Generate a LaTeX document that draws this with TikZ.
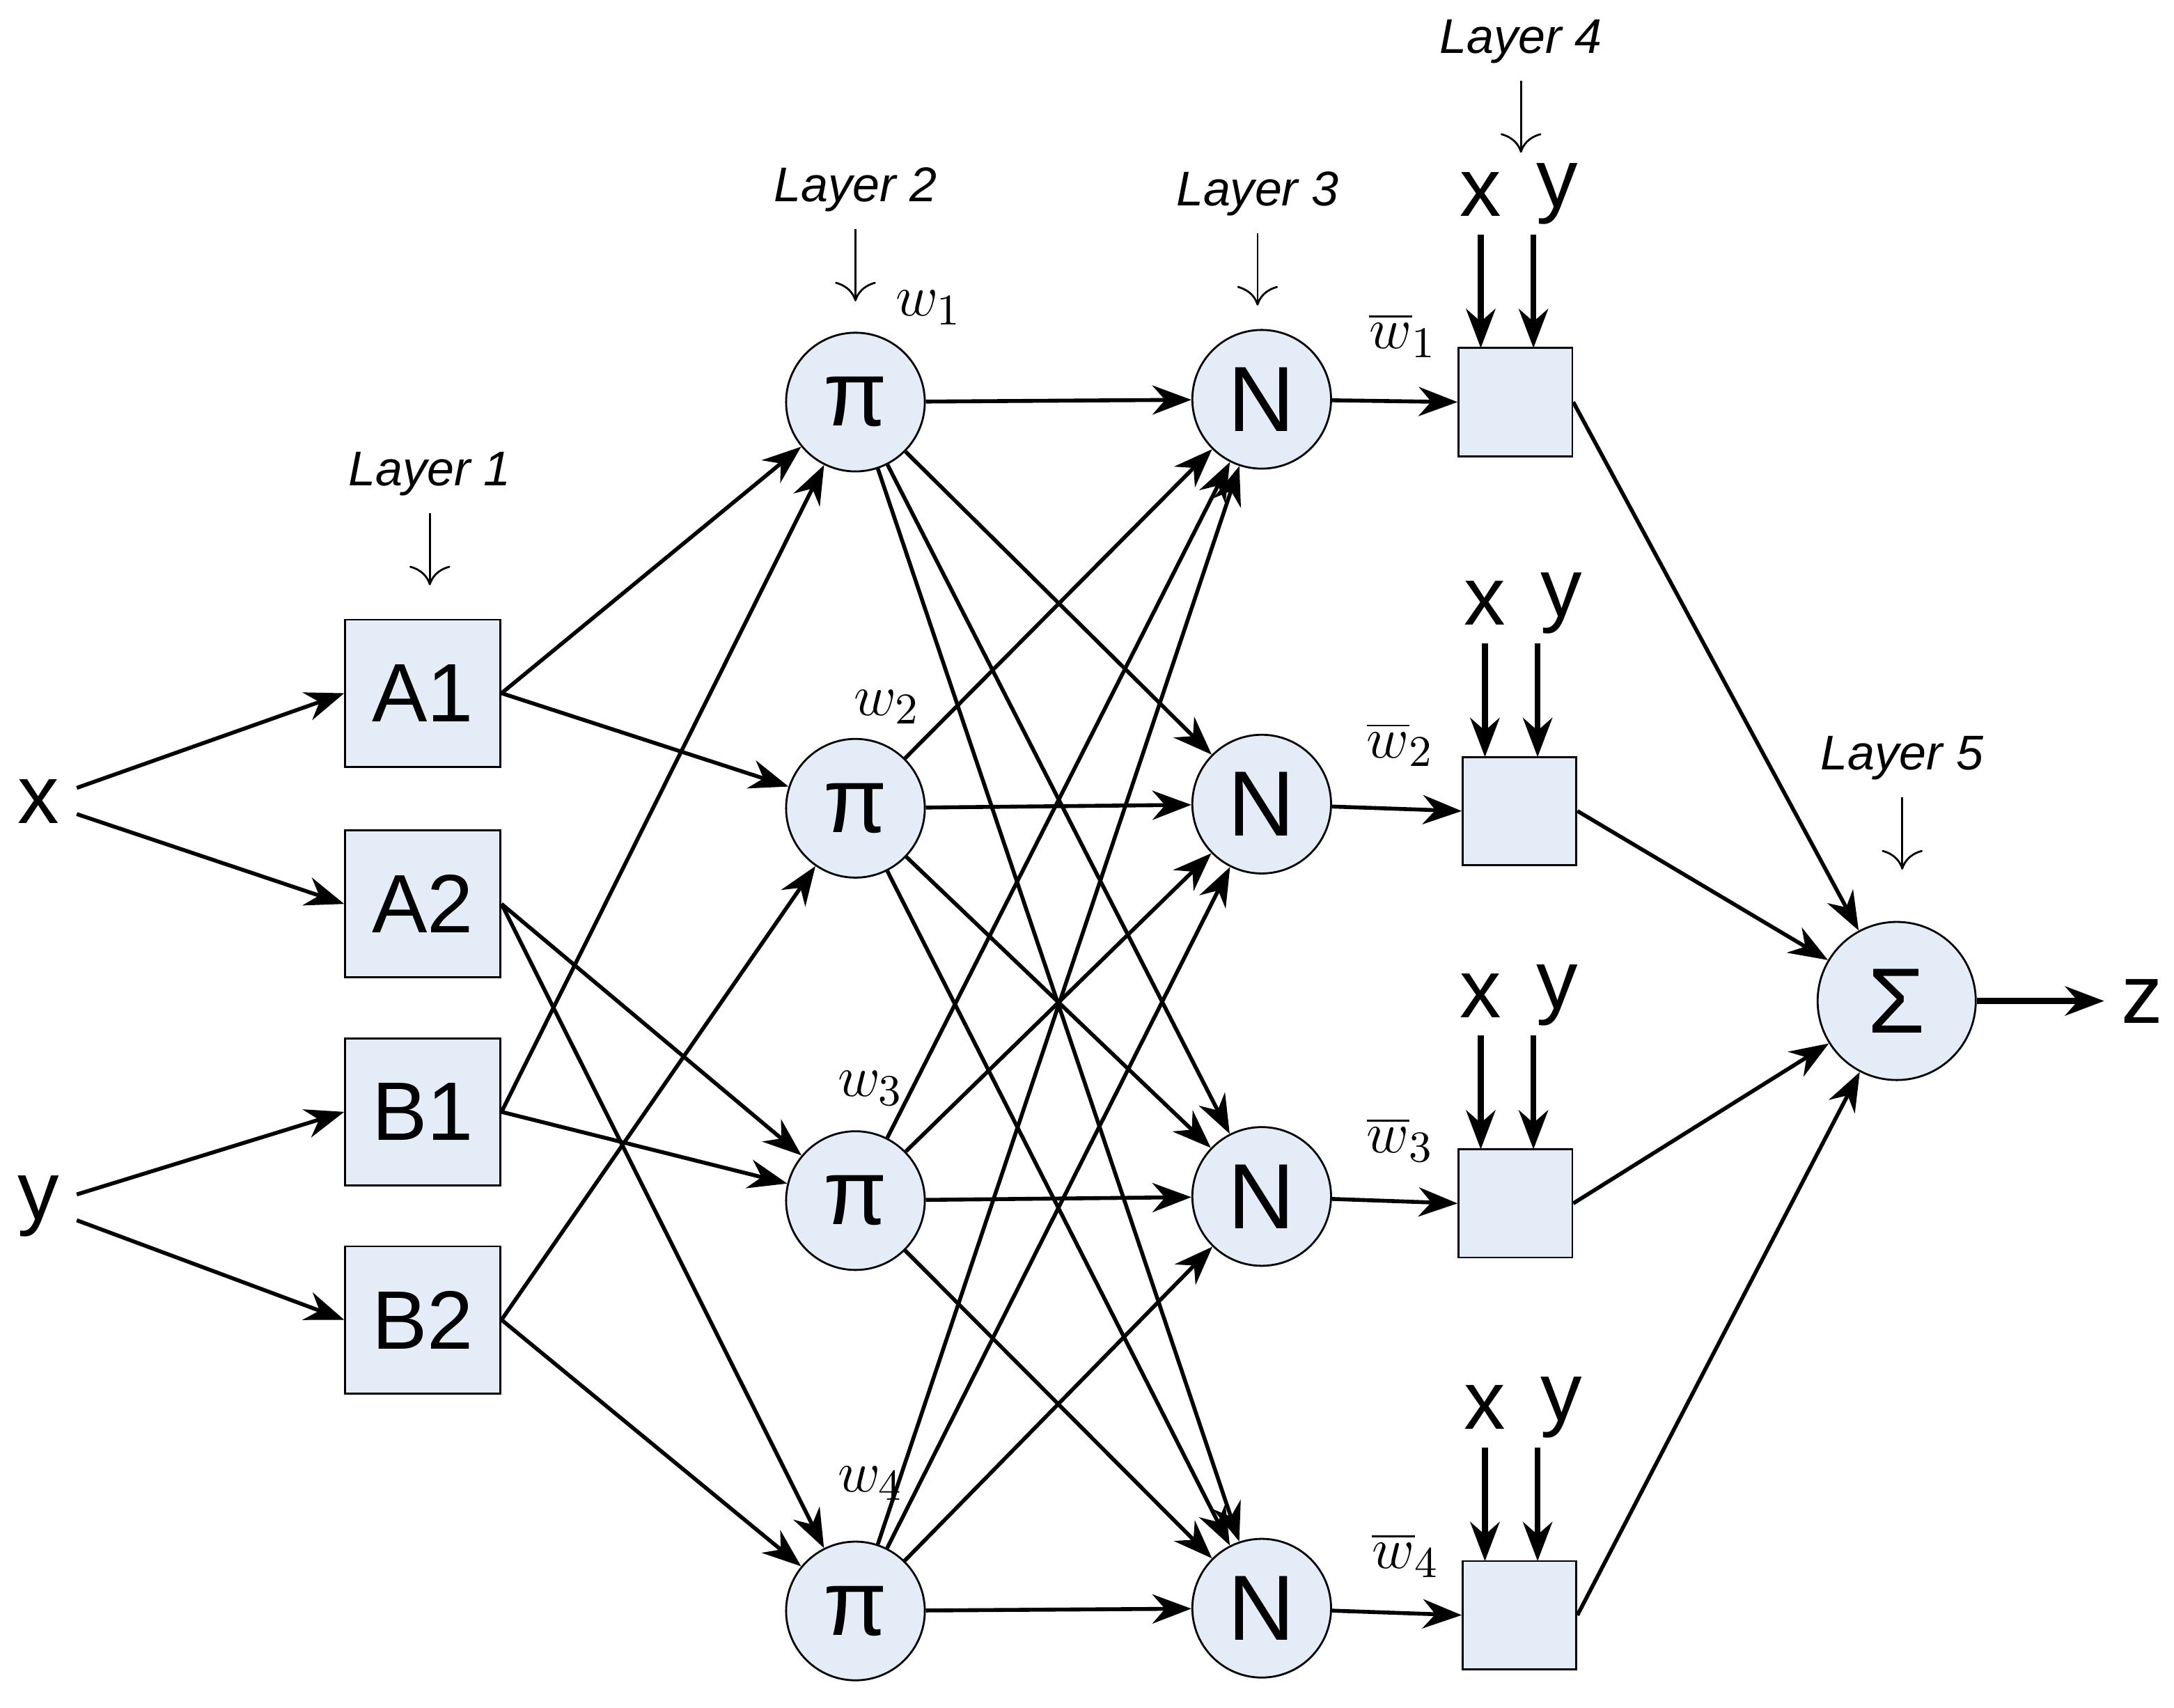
\documentclass[tikz,border=0pt]{standalone}
\usepackage{fontspec}
\setmainfont{Liberation Sans}
\usetikzlibrary{arrows.meta}
\definecolor{cellfill}{RGB}{228,236,247}
\tikzstyle{box} = [rectangle, draw, fill=cellfill, minimum width=1.12cm, minimum height=1.06cm, font=\fontsize{17}{19}\selectfont]
\tikzstyle{prod} = [circle, draw, fill=cellfill, minimum size=1.0cm, inner sep=0pt, font=\fontsize{19}{21}\selectfont]
\tikzstyle{sbox} = [rectangle, draw, fill=cellfill, minimum width=0.82cm, minimum height=0.78cm]
\tikzstyle{line} = [draw, thick, -{Stealth[length=8pt,width=6pt]}]
\tikzstyle{thin} = [draw, -{To[length=4pt]}]
\tikzstyle{layer} = [font=\itshape\fontsize{10}{12}\selectfont]
\tikzstyle{big} = [font=\fontsize{17}{19}\selectfont]
\tikzstyle{weight} = [font=\fontsize{13}{15}\selectfont]
\begin{document}
\begin{tikzpicture}[x=0.01cm, y=-0.01cm]
\useasboundingbox (0,0) rectangle (1568,1232);
% Place nodes
\node [big] (x) at (28,578) {x};
\node [big] (y) at (28,870) {y};
\node [box] (A1) at (305,500) {A1};
\node [box] (A2) at (305,652) {A2};
\node [box] (B1) at (305,802) {B1};
\node [box] (B2) at (305,952) {B2};
\node [prod] (P1) at (617,290) {π};
\node [prod] (P2) at (617,583) {π};
\node [prod] (P3) at (617,866) {π};
\node [prod] (P4) at (617,1162) {π};
\node [prod] (N1) at (910,288) {N};
\node [prod] (N2) at (910,580) {N};
\node [prod] (N3) at (910,863) {N};
\node [prod] (N4) at (910,1160) {N};
\node [sbox] (S1) at (1093,290) {};
\node [sbox] (S2) at (1096,585) {};
\node [sbox] (S3) at (1093,868) {};
\node [sbox] (S4) at (1096,1165) {};
\node [prod, minimum size=1.14cm] (sum) at (1368,722) {Σ};
\node [big] (z) at (1545,722) {z};

% Layer labels
\node [layer] (L1) at (310,342) {Layer 1};
\node [layer] (L2) at (617,137) {Layer 2};
\node [layer] (L3) at (907,140) {Layer 3};
\node [layer] (L4) at (1097,30) {Layer 4};
\node [layer] (L5) at (1372,547) {Layer 5};
\foreach \l in {L1,L2,L3,L4,L5}
  \draw [thin] (\l.south) -- ++(0,52);

% weights
\node [weight] at (670,222) {$w_1$};
\node [weight] at (640,510) {$w_2$};
\node [weight] at (628,785) {$w_3$};
\node [weight] at (628,1070) {$w_4$};
\foreach \i/\px/\py in {1/1012/242, 2/1010/537, 3/1010/822, 4/1014/1122}
  \node [weight] at (\px,\py) {$\overline{w}_\i$};

% x y inputs of layer 4
\foreach \s/\cx/\ty in {S1/1093/251, S2/1096/546, S3/1093/829, S4/1096/1126} {
  \node [big] (\s x) at (\cx-25,\ty-111) {x};
  \node [big] (\s y) at (\cx+30,\ty-111) {y};
  \coordinate (\s xin) at (\cx-25,\ty);
  \coordinate (\s yin) at (\cx+13,\ty);
  \draw [line, very thick] (\cx-25,\ty-82) -- (\s xin);
  \draw [line, very thick] (\cx+13,\ty-82) -- (\s yin);
}

% Draw edges
\path [line] (x) -- (A1.west);
\path [line] (x) -- (A2.west);
\path [line] (y) -- (B1.west);
\path [line] (y) -- (B2.west);
\path [line] (A1.east) -- (P1);
\path [line] (A1.east) -- (P2);
\path [line] (A2.east) -- (P3);
\path [line] (A2.east) -- (P4);
\path [line] (B1.east) -- (P1);
\path [line] (B1.east) -- (P3);
\path [line] (B2.east) -- (P2);
\path [line] (B2.east) -- (P4);
\foreach \a in {P1,P2,P3,P4}
  \foreach \b in {N1,N2,N3,N4}
    \path [line] (\a) -- (\b);
\foreach \i in {1,2,3,4} {
  \path [line] (N\i) -- (S\i.west);
  \path [line] (S\i.east) -- (sum);
}
\path [line, very thick] (sum) -- (z);
\end{tikzpicture}
\end{document}
